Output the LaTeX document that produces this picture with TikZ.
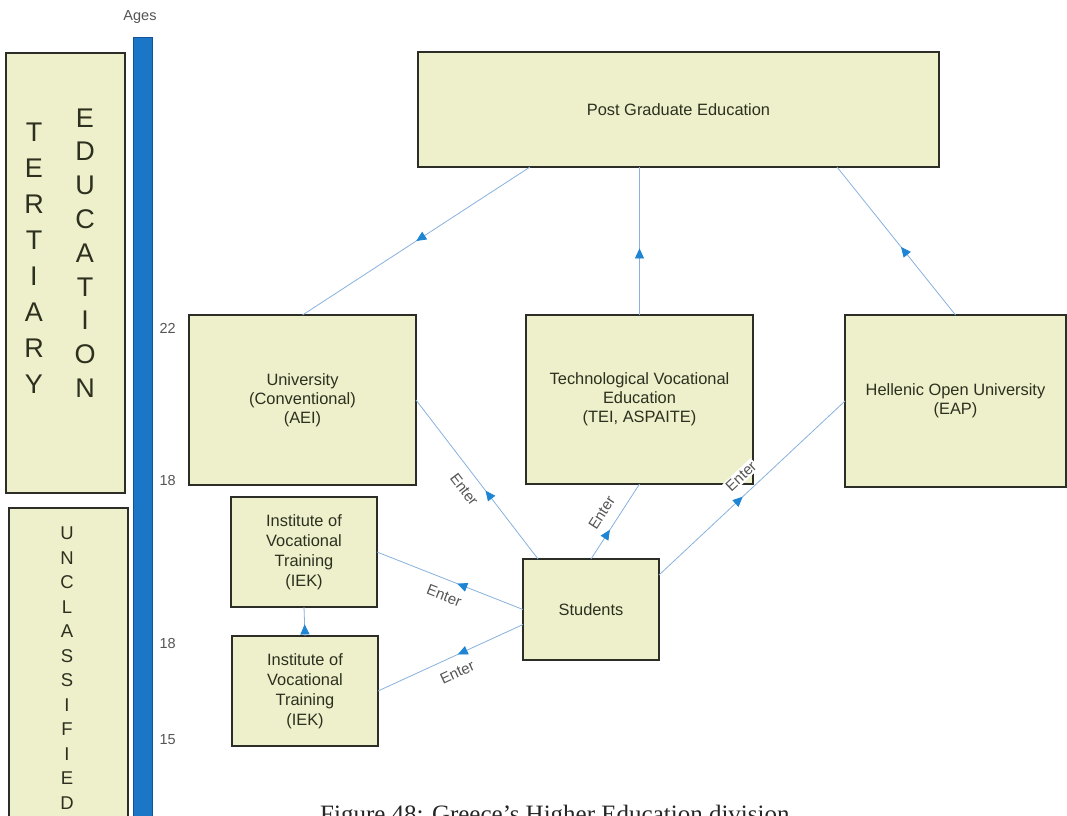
\documentclass[tikz,border=0pt]{standalone}
\usepackage{fontspec}
\setmainfont{Liberation Serif}
\setsansfont{Liberation Sans}
\usepackage{tikz}
\usetikzlibrary{arrows.meta, positioning, decorations.markings}

\definecolor{boxfill}{RGB}{238,240,204}
\definecolor{boxline}{RGB}{45,45,40}
\definecolor{boxtext}{RGB}{45,48,30}
\definecolor{linkblue}{RGB}{135,178,222}
\definecolor{tipblue}{RGB}{30,132,212}
\definecolor{barblue}{RGB}{28,118,200}
\definecolor{baredge}{RGB}{18,82,152}
\definecolor{agegray}{RGB}{85,85,85}

\begin{document}
\begin{tikzpicture}[
        x=1pt, y=-1pt,
        every node/.style={font=\sffamily, text=boxtext},
        box/.style={draw=boxline, fill=boxfill, line width=1.2pt, inner sep=0pt, outer sep=0pt,
            align=center, font=\sffamily\fontsize{16.4}{19}\selectfont},
        arrowline/.style={draw=linkblue, line width=0.8pt, postaction={decorate},
            decoration={markings, mark=at position #1 with {\arrow{Triangle[length=10pt,width=9pt,color=tipblue]}}}},
        enter/.style={sloped, fill=white, inner sep=1.5pt, text=agegray, font=\sffamily\fontsize{15}{15}\selectfont},
        age/.style={anchor=west, text=agegray, font=\sffamily\fontsize{14.5}{14.5}\selectfont},
        letters/.style={align=center, inner sep=0pt}
    ]
    \path[use as bounding box, fill=white] (0,0) rectangle (1067,815);
    \clip (0,0) rectangle (1067,815);
    % Age scale
    \node[draw=baredge, fill=barblue, line width=0.8pt, inner sep=0pt, minimum width=19pt, minimum height=800pt] (bar) at (142.5,437) {};
    \node[text=agegray, font=\sffamily\fontsize{14.5}{14.5}\selectfont] (ages) at (140,17) {Ages};
    \node[age] (a22) at (156,328) {22};
    \node[age] (a18t) at (156,480) {18};
    \node[age] (a18u) at (156,643) {18};
    \node[age] (a15) at (156,740) {15};
    % Side panels
    \node[box, minimum width=119pt, minimum height=440pt] (tert) at (65.5,273) {};
    \node[letters, font=\sffamily\fontsize{27}{36}\selectfont] (tertcol) at (34,258) {T\\E\\R\\T\\I\\A\\R\\Y};
    \node[letters, font=\sffamily\fontsize{27}{33.8}\selectfont] (educol) at (85,253) {E\\D\\U\\C\\A\\T\\I\\O\\N};
    \node[box, minimum width=119pt, minimum height=330pt] (uncl) at (68.5,673) {};
    \node[letters, font=\sffamily\fontsize{18.5}{24.5}\selectfont] (unclcol) at (67,668) {U\\N\\C\\L\\A\\S\\S\\I\\F\\I\\E\\D};
    % Define nodes
    \node[box, minimum width=521pt, minimum height=115pt] (pg) at (678.5,109.5) {Post Graduate Education};
    \node[box, minimum width=227pt, minimum height=170pt] (uni) at (302.5,400) {University\\(Conventional)\\(AEI)};
    \node[box, minimum width=227pt, minimum height=169pt] (tve) at (639.5,399.5) {Technological Vocational\\Education\\(TEI, ASPAITE)};
    \node[box, minimum width=221pt, minimum height=172pt] (hou) at (955.5,401) {Hellenic Open University\\(EAP)};
    \node[box, minimum width=136pt, minimum height=101pt] (stud) at (591,609.5) {Students};
    \node[box, minimum width=146pt, minimum height=110pt, font=\sffamily\fontsize{16.4}{20}\selectfont] (iek1) at (304,552) {Institute of\\Vocational\\Training\\(IEK)};
    \node[box, minimum width=146pt, minimum height=110pt, font=\sffamily\fontsize{16.4}{20}\selectfont] (iek2) at (305,691) {Institute of\\Vocational\\Training\\(IEK)};
    % Draw edges
    \draw[arrowline=0.5] ([xshift=112pt]pg.south west) -- (uni.north);
    \draw[arrowline=0.45] (tve.north) -- (tve.north |- pg.south);
    \draw[arrowline=0.46] (hou.north) -- ([xshift=-102pt]pg.south east);
    \draw[arrowline=0.43] ([xshift=15pt]stud.north west) -- node[enter, below=9pt] (enteruni) {Enter} (uni.east);
    \draw[arrowline=0.39] (stud.north) -- node[enter, above=9pt] (entertve) {Enter} (tve.south);
    \draw[arrowline=0.45] ([yshift=-16pt]stud.north east) -- node[enter, above=9pt] (enterhou) {Enter} (hou.west);
    \draw[arrowline=0.45] (stud.west) -- node[enter, below=9pt] (enteriekA) {Enter} (iek1.east);
    \draw[arrowline=0.45] ([yshift=-15pt]stud.west) -- node[enter, below=9pt] (enteriekB) {Enter} (iek2.east);
    \draw[arrowline=0.4] (iek2.north) -- (iek1.south);
    % Caption
    \node[anchor=base west, inner sep=0pt, text=black!85, font=\rmfamily\fontsize{25}{25}\selectfont] (caption) at (320,822) {Figure 48: Greece’s Higher Education division};
\end{tikzpicture}
\end{document}
